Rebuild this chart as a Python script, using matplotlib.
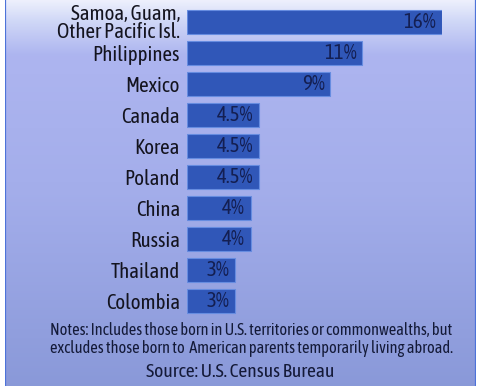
import numpy as np
import matplotlib
matplotlib.use("Agg")
import matplotlib.pyplot as plt
from matplotlib.colors import LinearSegmentedColormap

categories = ["Samoa, Guam,\nOther Pacific Isl.", "Philippines", "Mexico", "Canada",
              "Korea", "Poland", "China", "Russia", "Thailand", "Colombia"]
values = [16, 11, 9, 4.5, 4.5, 4.5, 4, 4, 3, 3]
value_labels = ["16%", "11%", "9%", "4.5%", "4.5%", "4.5%", "4%", "4%", "3%", "3%"]
notes = ("Notes: Includes those born in U.S. territories or commonwealths, but\n"
         "excludes those born to  American parents temporarily living abroad.")
source = "Source: U.S. Census Bureau"

FONT = ["Asap Condensed", "DejaVu Sans"]
plt.rcParams["font.family"] = FONT

W, H = 482, 386
fig = plt.figure(figsize=(W / 100, H / 100), dpi=100)
fig.patch.set_facecolor("white")

# background panel with vertical gradient
bg = fig.add_axes([5 / W, 0, (476 - 5) / W, 1])
bg.set_axis_off()
cmap = LinearSegmentedColormap.from_list(
    "sky",
    [(0.0, (0.93, 0.94, 0.99)),
     (0.05, (0.82, 0.85, 0.97)),
     (0.14, (0.68, 0.71, 0.94)),
     (0.5, (0.64, 0.68, 0.92)),
     (1.0, (0.54, 0.60, 0.85))])
grad = np.linspace(0, 1, 256).reshape(-1, 1)
bg.imshow(grad, aspect="auto", cmap=cmap, extent=[0, 1, 0, 1], origin="upper")
bg.set_xlim(0, 1)
bg.set_ylim(0, 1)
for x in (0.0, 1.0):
    bg.axvline(x, color=(0.30, 0.45, 0.85), lw=1.6)

# bars
left_px, right_px = 187, 442
top_px, bot_px = 6.5, 316.5
ax = fig.add_axes([left_px / W, (H - bot_px) / H, (right_px - left_px) / W, (bot_px - top_px) / H])
ax.set_facecolor("none")
y = np.arange(len(categories))
ax.barh(y, values, height=0.78, color=(0.19, 0.34, 0.72),
        edgecolor=(0.40, 0.55, 0.88), linewidth=0.8)
ax.set_xlim(0, 16)
ax.set_ylim(len(categories) - 0.5, -0.5)
ax.set_yticks(y)
ax.set_yticklabels(categories, fontsize=15, color=(0.08, 0.08, 0.12),
                   linespacing=0.9)
ax.tick_params(axis="y", length=0, pad=5)
ax.set_xticks([])
for s in ax.spines.values():
    s.set_visible(False)

for yi, v, lab in zip(y, values, value_labels):
    ax.annotate(lab, (v, yi), xytext=(-4, 0), textcoords="offset points",
                ha="right", va="center", fontsize=15, color=(0.08, 0.12, 0.32))

fig.text(251 / W, 1 - 339.5 / H, notes, ha="center", va="center", fontsize=11.8,
         color=(0.08, 0.10, 0.22), linespacing=1.15)
fig.text(240 / W, 1 - 372 / H, source, ha="center", va="center", fontsize=14,
         color=(0.08, 0.10, 0.22))

fig.savefig("out.png", dpi=100)
